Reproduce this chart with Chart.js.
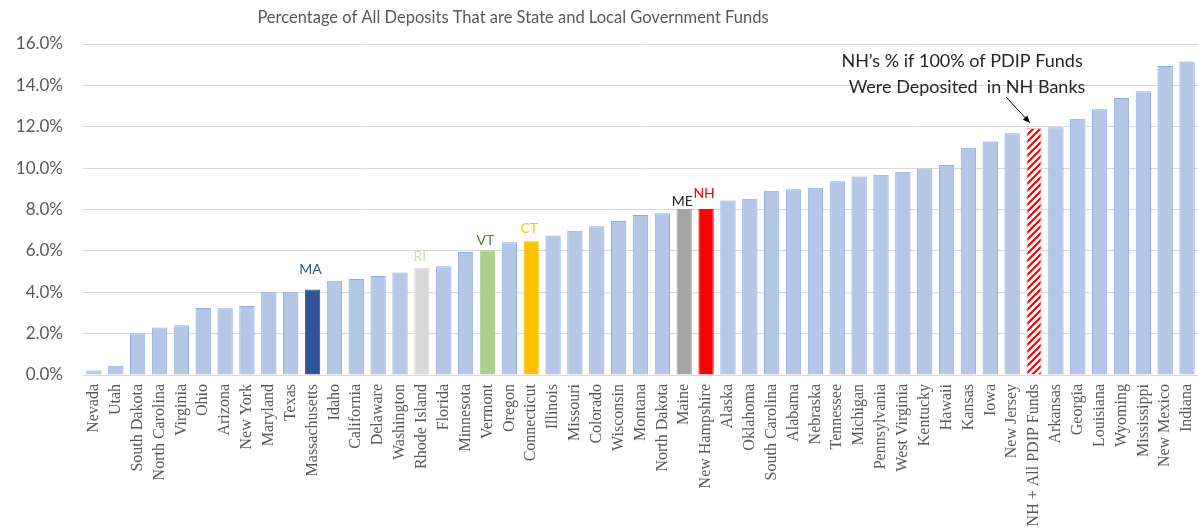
<!DOCTYPE html>
<html lang="en">
<head>
<meta charset="UTF-8">
<title>State and Local Government Deposits</title>
<script src="https://cdn.jsdelivr.net/npm/chart.js"></script>
<style>
  body { margin: 0; background: #fff; }
  #wrap { width: 1198px; height: 529px; }
</style>
</head>
<body>
<div id="wrap"><canvas id="depositsChart" width="1198" height="529"></canvas></div>
<script>
  // share of all deposits held as state and local government funds, %
  const states = ['Nevada', 'Utah', 'South Dakota', 'North Carolina', 'Virginia', 'Ohio', 'Arizona',
    'New York', 'Maryland', 'Texas', 'Massachusetts', 'Idaho', 'California', 'Delaware', 'Washington',
    'Rhode Island', 'Florida', 'Minnesota', 'Vermont', 'Oregon', 'Connecticut', 'Illinois', 'Missouri',
    'Colorado', 'Wisconsin', 'Montana', 'North Dakota', 'Maine', 'New Hampshire', 'Alaska', 'Oklahoma',
    'South Carolina', 'Alabama', 'Nebraska', 'Tennessee', 'Michigan', 'Pennsylvania', 'West Virginia',
    'Kentucky', 'Hawaii', 'Kansas', 'Iowa', 'New Jersey', 'NH + All PDIP Funds', 'Arkansas', 'Georgia',
    'Louisiana', 'Wyoming', 'Mississippi', 'New Mexico', 'Indiana'];

  const shares = [0.22, 0.45, 2.01, 2.30, 2.40, 3.24, 3.23, 3.34, 4.02, 4.02, 4.13, 4.56, 4.64, 4.79,
    4.95, 5.19, 5.26, 5.95, 6.03, 6.42, 6.47, 6.74, 6.97, 7.19, 7.45, 7.74, 7.82, 8.02, 8.03, 8.44,
    8.52, 8.91, 8.98, 9.05, 9.36, 9.60, 9.68, 9.82, 9.98, 10.15, 10.99, 11.29, 11.68, 11.94, 11.98,
    12.39, 12.84, 13.39, 13.71, 14.94, 15.16];

  const yTicks = [0, 2, 4, 6, 8, 10, 12, 14, 16];

  const chartTitle = 'Percentage of All Deposits That are State and Local Government Funds';
  const noteLines = ['NH\u2019s % if 100% of PDIP Funds', 'Were Deposited  in NH Banks'];
  const noteTarget = 'NH + All PDIP Funds';

  // New England states get their own colour and a short tag over the bar
  const callouts = [
    { state: 'Massachusetts', tag: 'MA', fill: '#2f5597', ink: '#2f5597', lift: 20 },
    { state: 'Rhode Island', tag: 'RI', fill: '#d9d9d9', ink: '#c5e0b4', lift: 11 },
    { state: 'Vermont', tag: 'VT', fill: '#a9d18e', ink: '#548235', lift: 10 },
    { state: 'Connecticut', tag: 'CT', fill: '#ffc000', ink: '#ffc000', lift: 13 },
    { state: 'Maine', tag: 'ME', fill: '#a5a5a5', ink: '#262626', lift: 8 },
    { state: 'New Hampshire', tag: 'NH', fill: '#ff0000', ink: '#ff0000', lift: 15 }
  ];

  const SANS = 'Lato, "Open Sans", sans-serif';
  const GREY = '#595959';

  // red/white diagonal hatch for the hypothetical NH bar
  function makeHatch() {
    const s = 7;
    const c = document.createElement('canvas');
    c.width = s; c.height = s;
    const g = c.getContext('2d');
    g.fillStyle = '#fff';
    g.fillRect(0, 0, s, s);
    g.strokeStyle = '#ff0000';
    g.lineWidth = 2.2;
    g.beginPath();
    g.moveTo(-1, s + 1); g.lineTo(s + 1, -1);
    g.moveTo(-1, 1); g.lineTo(1, -1);
    g.moveTo(s - 1, s + 1); g.lineTo(s + 1, s - 1);
    g.stroke();
    return g.createPattern(c, 'repeat');
  }
  const hatch = makeHatch();

  const fills = states.map(st => {
    if (st === noteTarget) return hatch;
    const hit = callouts.find(c => c.state === st);
    return hit ? hit.fill : '#b4c7e7';
  });
  const edges = states.map(st => {
    if (st === noteTarget) return '#d0d0d0';
    const hit = callouts.find(c => c.state === st);
    return hit ? hit.fill : '#8faadc';
  });

  const decorations = {
    id: 'decorations',
    afterDraw(chart) {
      const ctx = chart.ctx;
      const bars = chart.getDatasetMeta(0).data;
      ctx.save();

      // title
      ctx.fillStyle = GREY;
      ctx.font = '16.5px ' + SANS;
      ctx.textAlign = 'center';
      ctx.textBaseline = 'middle';
      ctx.fillText(chartTitle, 513, 18);

      // state tags over the coloured bars
      ctx.font = '14px ' + SANS;
      callouts.forEach(c => {
        const bar = bars[states.indexOf(c.state)];
        ctx.fillStyle = c.ink;
        ctx.fillText(c.tag, bar.x - 2, bar.y - c.lift);
      });

      // note with arrow pointing at the hatched bar
      const t = bars[states.indexOf(noteTarget)];
      ctx.fillStyle = '#262626';
      ctx.font = '18px ' + SANS;
      ctx.fillText(noteLines[0], t.x - 72, t.y - 67);
      ctx.fillText(noteLines[1], t.x - 67, t.y - 41);

      const x0 = t.x - 28, y0 = t.y - 31;
      const x1 = t.x - 4, y1 = t.y - 5;
      const ang = Math.atan2(y1 - y0, x1 - x0);
      ctx.strokeStyle = '#000';
      ctx.lineWidth = 1;
      ctx.beginPath();
      ctx.moveTo(x0, y0);
      ctx.lineTo(x1 - 5 * Math.cos(ang), y1 - 5 * Math.sin(ang));
      ctx.stroke();
      ctx.fillStyle = '#000';
      ctx.beginPath();
      ctx.moveTo(x1, y1);
      ctx.lineTo(x1 - 8 * Math.cos(ang - 0.4), y1 - 8 * Math.sin(ang - 0.4));
      ctx.lineTo(x1 - 8 * Math.cos(ang + 0.4), y1 - 8 * Math.sin(ang + 0.4));
      ctx.closePath();
      ctx.fill();
      ctx.restore();
    }
  };

  new Chart(document.getElementById('depositsChart'), {
    type: 'bar',
    data: {
      labels: states,
      datasets: [{
        data: shares,
        backgroundColor: fills,
        borderColor: edges,
        borderWidth: 1,
        barPercentage: 0.7,
        categoryPercentage: 1
      }]
    },
    options: {
      responsive: false,
      animation: false,
      layout: { padding: { top: 44, left: 0, right: 0, bottom: 0 } },
      plugins: {
        legend: { display: false },
        tooltip: { enabled: false },
        title: { display: false }
      },
      scales: {
        x: {
          grid: { display: false, drawTicks: false },
          border: { display: true, color: '#d9d9d9' },
          ticks: {
            autoSkip: false,
            minRotation: 90,
            maxRotation: 90,
            padding: 9,
            color: GREY,
            font: { family: '"Liberation Serif", "DejaVu Serif", serif', size: 16 }
          },
          afterFit(scale) {
            scale.height = 154;
            scale.paddingLeft = 0;
            scale.paddingRight = 0;
          }
        },
        y: {
          min: 0,
          max: 16,
          afterBuildTicks(scale) {
            scale.ticks = yTicks.map(v => ({ value: v }));
          },
          grid: { color: '#d9d9d9', lineWidth: 1, drawTicks: false },
          border: { display: false },
          ticks: {
            padding: 20,
            color: GREY,
            font: { family: SANS, size: 17 },
            callback: v => v.toFixed(1) + '%'
          },
          afterFit(scale) {
            scale.width = 83;
            scale.paddingTop = 0;
            scale.paddingBottom = 0;
          }
        }
      }
    },
    plugins: [decorations]
  });
</script>
</body>
</html>
